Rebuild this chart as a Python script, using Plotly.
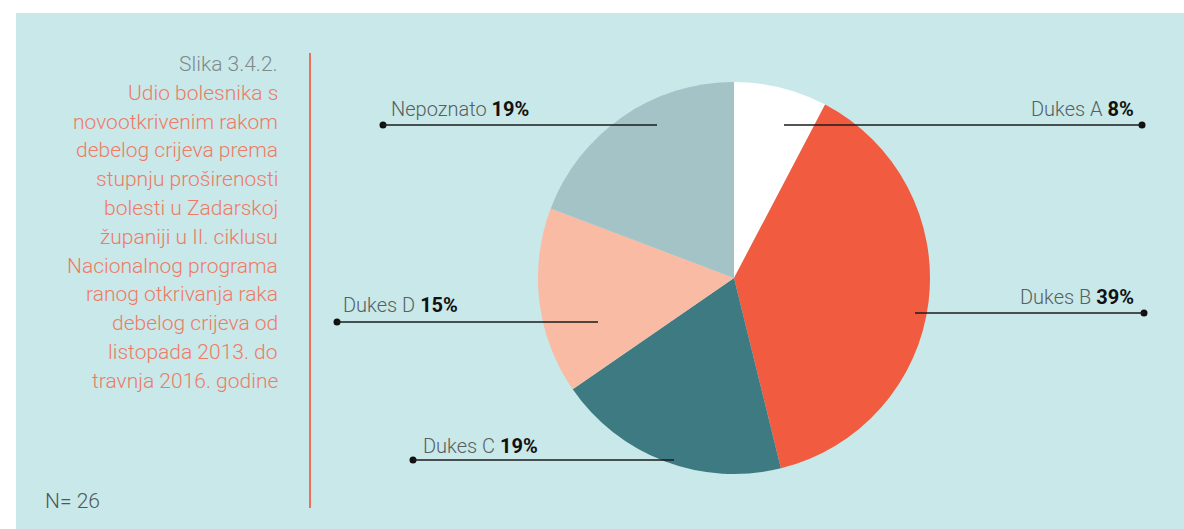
import plotly.graph_objects as go

# ---- data ----
categories = ["Dukes A", "Dukes B", "Dukes C", "Dukes D", "Nepoznato"]
counts = [2, 10, 5, 4, 5]          # N = 26
colors = ["#ffffff", "#f15b40", "#3e7a81", "#f9bba4", "#a4c3c6"]

title_head = "Slika 3.4.2."
title_lines = [
    "Udio bolesnika s",
    "novootkrivenim rakom",
    "debelog crijeva prema",
    "stupnju proširenosti",
    "bolesti u Zadarskoj",
    "županiji u II. ciklusu",
    "Nacionalnog programa",
    "ranog otkrivanja raka",
    "debelog crijeva od",
    "listopada 2013. do",
    "travnja 2016. godine",
]
n_label = "N= 26"

# ---- percentages (largest remainder so they sum to 100) ----
total = sum(counts)
raw = [c / total * 100 for c in counts]
pcts = [int(v) for v in raw]
order = sorted(range(len(raw)), key=lambda i: raw[i] - pcts[i], reverse=True)
for i in order[: 100 - sum(pcts)]:
    pcts[i] += 1

# ---- layout (page pixel space; body margin removed via post_script) ----
W, H = 1184, 529
BG = "#c9e8e9"
FONT = "Roboto"

# pie placement: center and radius in pixels
cx, cy, r = 734, 278, 196
pie_domain = dict(x=[(cx - r) / W, (cx + r) / W], y=[(H - cy - r) / H, (H - cy + r) / H])

fig = go.Figure()
fig.add_trace(go.Pie(
    labels=categories, values=counts, sort=False, direction="clockwise", rotation=0,
    marker=dict(colors=colors, line=dict(width=0)),
    textinfo="none", hoverinfo="label+percent", showlegend=False,
    domain=pie_domain,
))

# leader-line placement per category: (x_start, x_end, y_line, text_x, text_anchor, text_y)
leaders = {
    "Dukes A":   (784, 1142, 125, 1136, "right", 109),
    "Dukes B":   (915, 1144, 313, 1136, "right", 297),
    "Dukes C":   (413, 674, 460, 421, "left", 446),
    "Dukes D":   (337, 598, 322, 341, "left", 305),
    "Nepoznato": (383, 657, 125, 389, "left", 109),
}

shapes = [dict(type="rect", xref="x", yref="y", x0=16, x1=W + 5, y0=13, y1=H + 5,
               fillcolor=BG, line=dict(width=0), layer="below"),
          dict(type="line", xref="x", yref="y", x0=310, x1=310, y0=53, y1=508,
               line=dict(color="#ef6f5a", width=2), layer="above")]
annotations = []
dot_x, dot_y = [], []
for cat, p in zip(categories, pcts):
    x0, x1, yl, tx, anchor, ty = leaders[cat]
    shapes.append(dict(type="line", xref="x", yref="y", x0=x0, x1=x1, y0=yl, y1=yl,
                       line=dict(color="#1b1b1b", width=1.6), layer="above"))
    dot_x.append(x1 if anchor == "right" else x0)
    dot_y.append(yl)
    annotations.append(dict(
        x=tx, y=ty, xref="x", yref="y", xanchor=anchor, yanchor="middle", showarrow=False,
        text=f"<span style='color:#55605f;font-weight:300'>{cat}</span> <b>{p}%</b>",
        font=dict(family=FONT, size=20, color="#111111"),
    ))

fig.add_trace(go.Scatter(x=dot_x, y=dot_y, mode="markers", hoverinfo="skip", showlegend=False,
                         marker=dict(color="#111111", size=7)))

# left title block
annotations.append(dict(x=280, y=64, xref="x", yref="y", xanchor="right", yanchor="middle",
                        showarrow=False, text=title_head,
                        font=dict(family=FONT, size=21, color="#7f8a8b", weight=300)))
for i, line in enumerate(title_lines):
    annotations.append(dict(x=280, y=64 + 28.8 * (i + 1), xref="x", yref="y", xanchor="right",
                            yanchor="middle", showarrow=False, text=line,
                            font=dict(family=FONT, size=21, color="#ee7b66", weight=300)))
annotations.append(dict(x=43, y=501, xref="x", yref="y", xanchor="left", yanchor="middle",
                        showarrow=False, text=n_label,
                        font=dict(family=FONT, size=21, color="#4f5859", weight=300)))

fig.update_layout(
    width=W, height=H, margin=dict(l=0, r=0, t=0, b=0),
    paper_bgcolor="#ffffff", plot_bgcolor="rgba(0,0,0,0)",
    xaxis=dict(range=[0, W], visible=False, domain=[0, 1], fixedrange=True),
    yaxis=dict(range=[H, 0], visible=False, domain=[0, 1], fixedrange=True),
    shapes=shapes, annotations=annotations, showlegend=False,
)

fig.write_html("out.html", config={"displayModeBar": False},
               post_script="document.body.style.margin='0';document.body.style.overflow='hidden';")
